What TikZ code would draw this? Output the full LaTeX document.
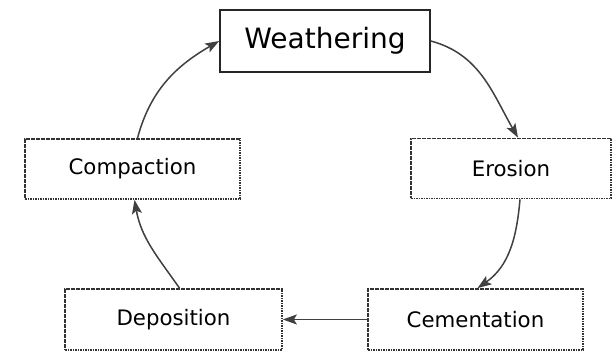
\documentclass[tikz,border=0pt]{standalone}
\usepackage{fontspec}
\setmainfont{DejaVu Sans}
\usetikzlibrary{arrows.meta}
\begin{document}
\begin{tikzpicture}[x=1pt,y=1pt,
  stagebox/.style={draw=black!80, line width=1.7pt, dash pattern=on 1.6pt off 0.9pt, fill=white, minimum width=215pt, minimum height=60pt, inner sep=0pt, font=\fontsize{21.3}{25}\selectfont},
  topbox/.style={draw=black!85, line width=1.6pt, fill=white, minimum width=210pt, minimum height=62pt, inner sep=0pt, font=\fontsize{28}{33}\selectfont},
  flow/.style={draw=black!75, line width=1.5pt, -{Stealth[length=14pt,width=10pt,inset=3pt]}}]
\useasboundingbox (0,0) rectangle (613,352);
\fill[white] (0,0) rectangle (613,352);
\node[topbox] (w) at (325,311) {Weathering};
\node[stagebox] (c) at (132.5,183) {Compaction};
\node[stagebox, minimum width=200pt] (e) at (511,183.5) {Erosion};
\node[stagebox, minimum width=217pt, minimum height=61pt] (d) at (173.5,32.5) {Deposition};
\node[stagebox, minimum height=61pt] (m) at (475.5,32.5) {Cementation};
\coordinate (cn) at ([xshift=5pt]c.north);
\coordinate (en) at ([xshift=7pt]e.north);
\coordinate (es) at ([xshift=9pt]e.south);
\coordinate (mn) at ([xshift=2pt]m.north);
\coordinate (dn) at ([xshift=6pt]d.north);
\coordinate (cs) at ([xshift=2pt]c.south);
\draw[flow] (cn) to[out=75, in=210] (w.west);
\draw[flow] (w.east) to[out=-15, in=120] (en);
\draw[flow] (es) to[out=-95, in=35] (mn);
\draw[flow] (m.west) -- (d.east);
\draw[flow] (dn) to[out=125, in=-80] (cs);
\end{tikzpicture}
\end{document}
